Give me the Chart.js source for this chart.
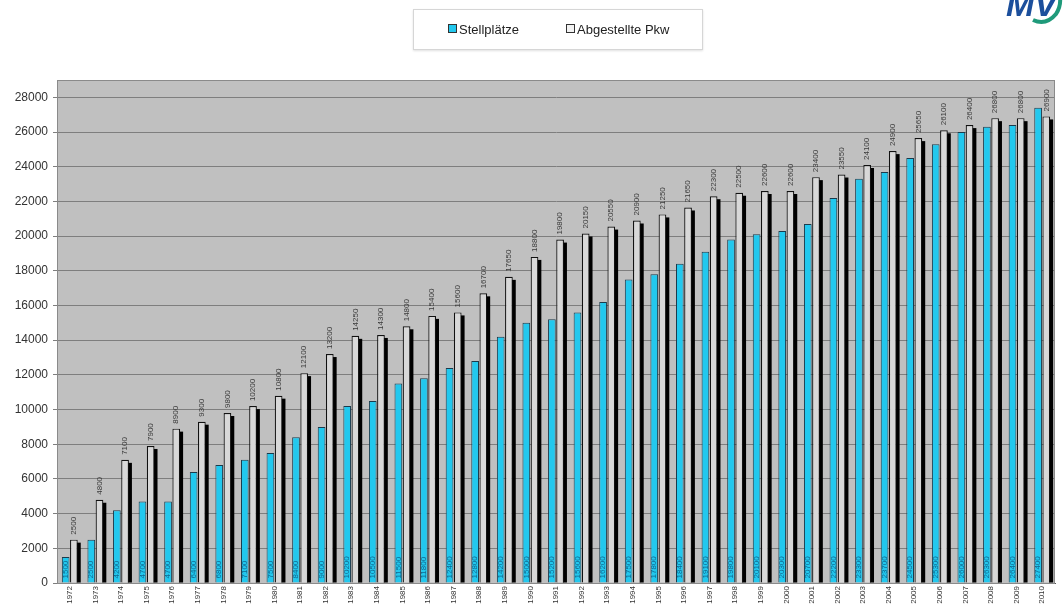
<!DOCTYPE html>
<html>
<head>
<meta charset="utf-8">
<script src="https://cdn.jsdelivr.net/npm/chart.js@4/dist/chart.umd.min.js"></script>
<style>
  html, body { margin: 0; padding: 0; background: #fff; overflow: hidden; }
  #wrap { position: relative; width: 1063px; height: 610px; }
  #legend {
    position: absolute; left: 413px; top: 9px; width: 288px; height: 39px;
    border: 1px solid #d6d6d6; box-shadow: 0 1px 2px rgba(0,0,0,0.12);
    background: #fff; font: 13px "Liberation Sans", Arial, sans-serif; color: #222;
  }
  #legend span.item { position: absolute; top: 12px; white-space: nowrap; }
  #legend i { display: inline-block; width: 7px; height: 7px; border: 1px solid #333; margin-right: 2px; vertical-align: 1px; }
  #logo { position: absolute; left: 1000px; top: 0; }
</style>
</head>
<body>
<div id="wrap">
  <canvas id="myChart" width="1063" height="610"></canvas>
  <div id="legend">
    <span class="item" style="left:34px"><i style="background:#22c8ee"></i>Stellplätze</span>
    <span class="item" style="left:152px"><i style="background:#f2f2f2"></i>Abgestellte Pkw</span>
  </div>
  <svg id="logo" width="63" height="26" viewBox="0 0 63 26">
    <text x="6" y="16" font-family="Liberation Sans, Arial" font-weight="bold" font-style="italic" font-size="34" fill="#1c4f9c">MV</text>
    <path d="M33 20 Q46 26 56 14 Q61 6 60 -2" stroke="#1f9a7a" stroke-width="4" fill="none"/>
  </svg>
</div>
<script>
const years = ["1972","1973","1974","1975","1976","1977","1978","1979","1980","1981","1982","1983","1984","1985","1986","1987","1988","1989","1990","1991","1992","1993","1994","1995","1996","1997","1998","1999","2000","2001","2002","2003","2004","2005","2006","2007","2008","2009","2010"];
const stellplaetze = [1500,2500,4200,4700,4700,6400,6800,7100,7500,8400,9000,10200,10500,11500,11800,12400,12800,14200,15000,15200,15600,16200,17500,17800,18400,19100,19800,20100,20300,20700,22200,23300,23700,24500,25300,26000,26300,26400,27400];
const abgestelltePkw = [2500,4800,7100,7900,8900,9300,9800,10200,10800,12100,13200,14250,14300,14800,15400,15600,16700,17650,18800,19800,20150,20550,20900,21250,21650,22300,22500,22600,22600,23400,23550,24100,24900,25650,26100,26400,26800,26800,26900];
const yTicks = [0,2000,4000,6000,8000,10000,12000,14000,16000,18000,20000,22000,24000,26000,28000];

const font = '"Liberation Sans", Arial, sans-serif';

// grey plot area, 3d shadow on the Pkw bars, value labels
const plotStyle = {
   id: "plotStyle",
   beforeDraw(chart) {
      const { ctx, chartArea: a } = chart;
      ctx.save();
      ctx.fillStyle = "#c0c0c0";
      ctx.fillRect(a.left, a.top, a.right - a.left, a.bottom - a.top);
      ctx.restore();
   },
   beforeDatasetsDraw(chart) {
      const { ctx, chartArea: a } = chart;
      ctx.save();
      ctx.strokeStyle = "#8a8a8a";
      ctx.lineWidth = 1;
      ctx.strokeRect(a.left + 0.5, a.top + 0.5, a.right - a.left - 1, a.bottom - a.top);
      ctx.fillStyle = "#000";
      chart.getDatasetMeta(1).data.forEach((bar) => {
         const r = bar.x + bar.width / 2;
         ctx.fillRect(r - 1, bar.y + 3, 4, bar.base - bar.y - 3);
      });
      ctx.restore();
   },
   afterDatasetsDraw(chart) {
      const { ctx } = chart;
      ctx.save();
      ctx.font = "8px " + font;
      ctx.textBaseline = "middle";
      chart.getDatasetMeta(1).data.forEach((bar, i) => {
         ctx.save();
         ctx.translate(bar.x, bar.y - 5);
         ctx.rotate(-Math.PI / 2);
         ctx.textAlign = "left";
         ctx.fillStyle = "#3a3a3a";
         ctx.fillText(String(abgestelltePkw[i]), 0, 0);
         ctx.restore();
      });
      chart.getDatasetMeta(0).data.forEach((bar, i) => {
         ctx.save();
         ctx.translate(bar.x, bar.base - 4);
         ctx.rotate(-Math.PI / 2);
         ctx.textAlign = "left";
         ctx.fillStyle = "rgba(10,70,110,0.75)";
         ctx.fillText(String(stellplaetze[i]), 0, 0);
         ctx.restore();
      });
      ctx.restore();
   },
};

const ctx = document.getElementById("myChart").getContext("2d");
new Chart(ctx, {
   type: "bar",
   data: {
      labels: years,
      datasets: [
         {
            label: "Stellplätze",
            data: stellplaetze,
            backgroundColor: "#22c8ee",
            borderColor: "#1b3b4c",
            borderWidth: 1,
            categoryPercentage: 0.64,
            barPercentage: 0.94,
         },
         {
            label: "Abgestellte Pkw",
            data: abgestelltePkw,
            backgroundColor: "#d8d8d8",
            borderColor: "#111",
            borderWidth: 1.2,
            categoryPercentage: 0.64,
            barPercentage: 0.94,
         },
      ],
   },
   options: {
      responsive: false,
      animation: false,
      layout: { padding: { top: 80, right: 8, left: 0, bottom: 0 } },
      plugins: {
         legend: { display: false },
         tooltip: { enabled: false },
      },
      scales: {
         x: {
            grid: { display: false, drawTicks: false },
            border: { display: true, color: "#555" },
            ticks: {
               minRotation: 90,
               maxRotation: 90,
               autoSkip: false,
               padding: 3,
               color: "#333",
               font: { family: font, size: 8 },
            },
            afterFit(scale) { scale.height = 27; },
         },
         y: {
            min: 0,
            max: 29000,
            afterBuildTicks(scale) { scale.ticks = yTicks.map((v) => ({ value: v })); },
            grid: { color: "#7e7e7e", lineWidth: 1, tickLength: 4 },
            border: { display: true, color: "#555" },
            ticks: {
               color: "#333",
               padding: 5,
               font: { family: font, size: 12 },
               callback: (v) => String(v),
            },
            afterFit(scale) { scale.width = 57; },
         },
      },
   },
   plugins: [plotStyle],
});
</script>
</body>
</html>
